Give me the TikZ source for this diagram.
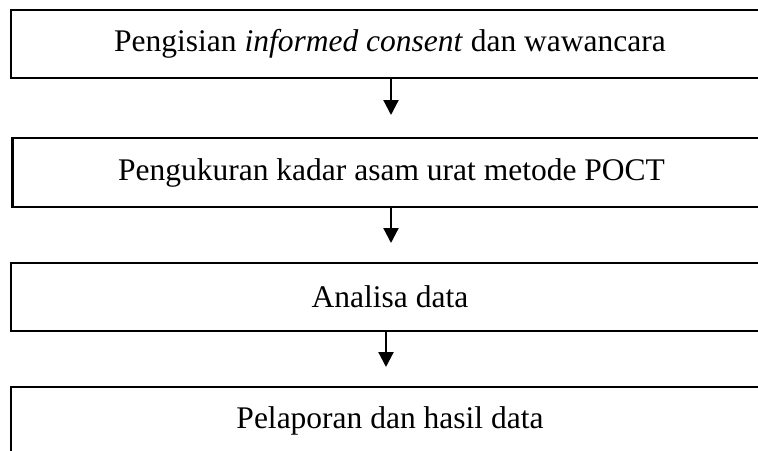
\documentclass[tikz,border=0pt]{standalone}
\usepackage{fontspec}
\setmainfont{Liberation Serif}
\usetikzlibrary{arrows.meta}
\begin{document}
\begin{tikzpicture}[x=1pt,y=-1pt,
  stepbox/.style={draw=black,line width=2.2pt,minimum width=758pt,inner sep=0pt,
    font=\fontsize{31.5}{37}\selectfont},
  arr/.style={line width=2.2pt,-{Triangle[width=15pt,length=15pt]}}]
\useasboundingbox[fill=white] (0,0) rectangle (758,450);
\node[stepbox,minimum height=68pt] (b1) at (390,44) {Pengisian \textit{informed consent} dan wawancara};
\node[stepbox,minimum height=69pt] (b2) at (391.5,172.5) {Pengukuran kadar asam urat metode POCT};
\node[stepbox,minimum height=68pt] (b3) at (390,297) {Analisa data};
\node[stepbox,minimum height=68pt] (b4) at (390,421) {Pelaporan dan hasil data};
\coordinate (t1) at (391,115);
\coordinate (t2) at (391,243);
\coordinate (t3) at (386,367);
\draw[arr] (b1.south -| t1) -- (t1);
\draw[arr] (b2.south -| t2) -- (t2);
\draw[arr] (b3.south -| t3) -- (t3);
\end{tikzpicture}
\end{document}
